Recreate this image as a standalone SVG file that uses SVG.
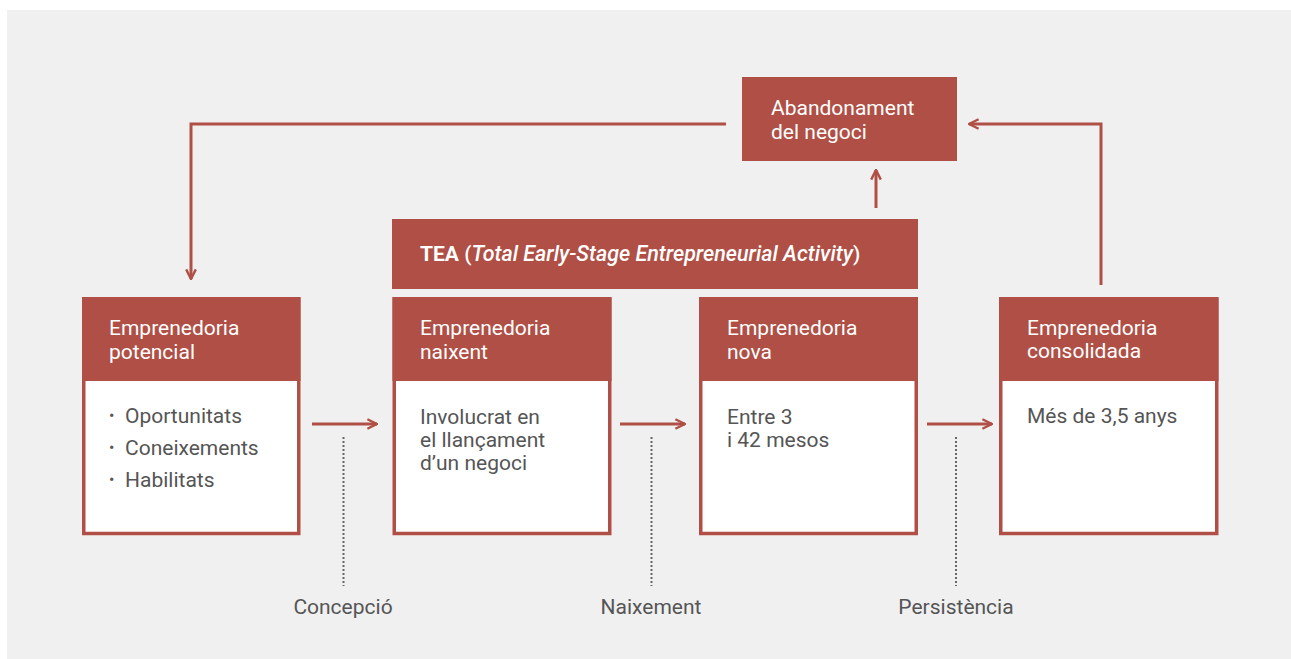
<svg xmlns="http://www.w3.org/2000/svg" width="1291" height="659" viewBox="0 0 1291 659">
<defs>
<style>
.bg{fill:#f0f0f0}
.red{fill:#b04f45}
.box{fill:#ffffff;stroke:#b04f45;stroke-width:3.5}
.hd{font-family:Roboto,"Liberation Sans",sans-serif;font-size:21px;fill:#ffffff}
.bd{font-family:Roboto,"Liberation Sans",sans-serif;font-size:21px;fill:#555555}
.lbl{font-family:Roboto,"Liberation Sans",sans-serif;font-size:21px;fill:#555555;text-anchor:middle}
.ln{fill:none;stroke:#b04f45;stroke-width:3}
.dot{fill:none;stroke:#666666;stroke-width:2;stroke-dasharray:2 2}
</style>
<marker id="ah" viewBox="0 0 10 10" refX="9" refY="5" markerWidth="4" markerHeight="4" orient="auto" markerUnits="strokeWidth">
<path d="M1,1 L9,5 L1,9" fill="none" stroke="#b04f45" stroke-width="2"/>
</marker>
</defs>
<rect class="bg" x="7" y="10" width="1284" height="649"/>

<g id="abandonament">
<rect class="red" x="742" y="77" width="215" height="84"/>
<text class="hd" x="771" y="115">Abandonament</text>
<text class="hd" x="771" y="139">del negoci</text>
</g>

<g id="tea">
<rect class="red" x="392" y="219" width="526" height="70"/>
<text class="hd" x="420" y="261" font-weight="500"><tspan font-weight="bold">TEA</tspan> (<tspan font-style="italic" font-size="21.5">Total Early-Stage Entrepreneurial Activity</tspan>)</text>
</g>

<g id="potencial">
<rect class="box" x="83.75" y="299" width="215" height="234.5"/>
<rect class="red" x="82" y="297" width="218.5" height="84"/>
<text class="hd" x="109" y="335">Emprenedoria</text>
<text class="hd" x="109" y="359">potencial</text>
<text class="bd" x="109" y="423"><tspan font-size="16" dy="-2">•</tspan><tspan x="125" dy="2">Oportunitats</tspan></text>
<text class="bd" x="109" y="455"><tspan font-size="16" dy="-2">•</tspan><tspan x="125" dy="2">Coneixements</tspan></text>
<text class="bd" x="109" y="487"><tspan font-size="16" dy="-2">•</tspan><tspan x="125" dy="2">Habilitats</tspan></text>
</g>

<g id="naixent">
<rect class="box" x="394.25" y="299" width="215.5" height="234.5"/>
<rect class="red" x="392.5" y="297" width="219" height="84"/>
<text class="hd" x="420" y="335">Emprenedoria</text>
<text class="hd" x="420" y="359">naixent</text>
<text class="bd" x="420" y="424">Involucrat en</text>
<text class="bd" x="420" y="447">el llançament</text>
<text class="bd" x="420" y="470">d’un negoci</text>
</g>

<g id="nova">
<rect class="box" x="700.75" y="299" width="215.5" height="234.5"/>
<rect class="red" x="699" y="297" width="219" height="84"/>
<text class="hd" x="727" y="335">Emprenedoria</text>
<text class="hd" x="727" y="359">nova</text>
<text class="bd" x="727" y="424">Entre 3</text>
<text class="bd" x="727" y="447">i 42 mesos</text>
</g>

<g id="consolidada">
<rect class="box" x="1000.75" y="299" width="216" height="234.5"/>
<rect class="red" x="999" y="297" width="219.5" height="84"/>
<text class="hd" x="1027" y="335">Emprenedoria</text>
<text class="hd" x="1027" y="358">consolidada</text>
<text class="bd" x="1027" y="423">Més de 3,5 anys</text>
</g>

<g id="connectors">
<path class="ln" d="M726,124 H191 V279" marker-end="url(#ah)"/>
<path class="ln" d="M1101,285 V124 H969" marker-end="url(#ah)"/>
<path class="ln" d="M876,208 V170" marker-end="url(#ah)"/>
<path class="ln" d="M312,424 H377" marker-end="url(#ah)"/>
<path class="ln" d="M620,424 H685" marker-end="url(#ah)"/>
<path class="ln" d="M927,424 H992" marker-end="url(#ah)"/>
<path class="dot" d="M343.5,437 V586"/>
<path class="dot" d="M651.5,437 V586"/>
<path class="dot" d="M956,437 V586"/>
</g>

<g id="labels">
<text class="lbl" x="343" y="614">Concepció</text>
<text class="lbl" x="651" y="614">Naixement</text>
<text class="lbl" x="956" y="614">Persistència</text>
</g>
</svg>
